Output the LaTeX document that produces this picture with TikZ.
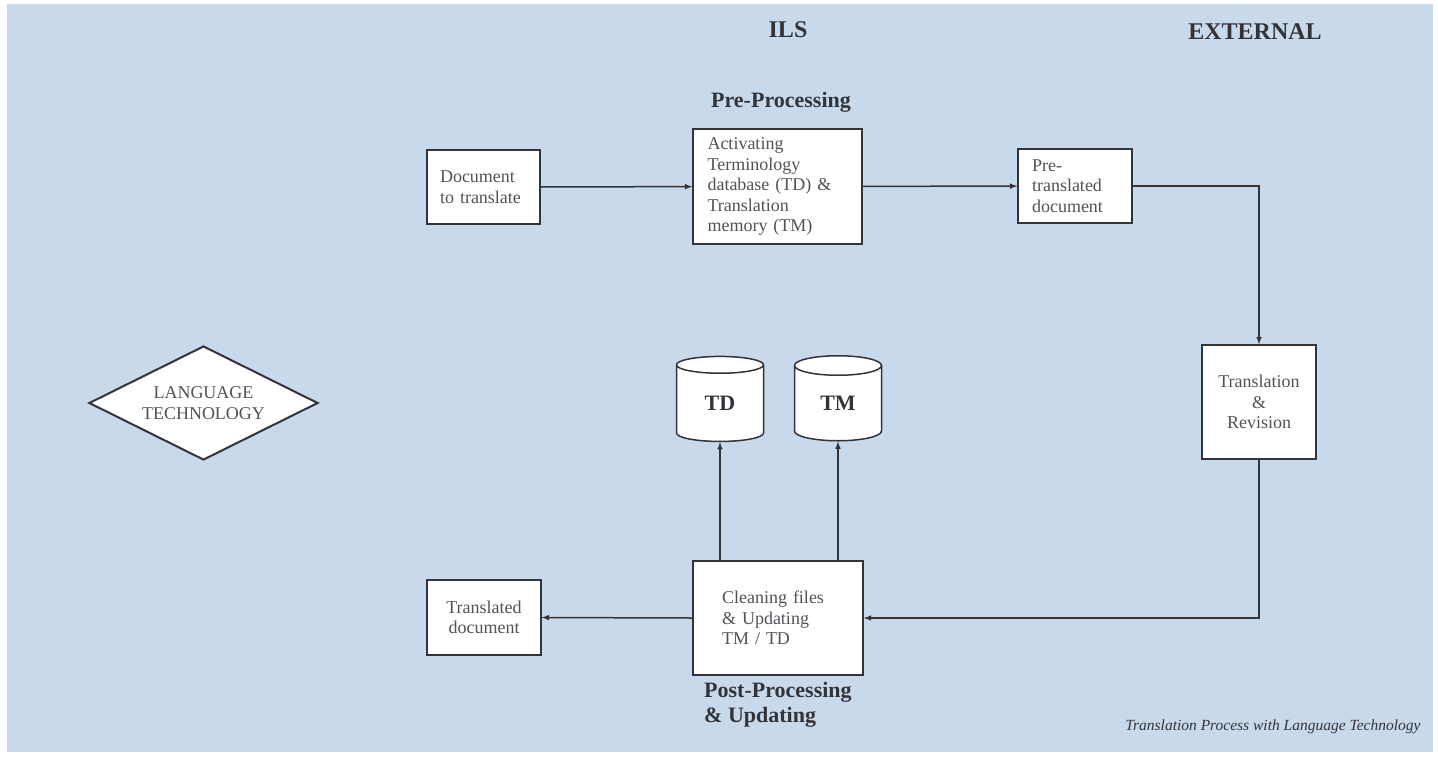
\documentclass[tikz,border=0pt]{standalone}
\usepackage{fontspec}
\setmainfont{Liberation Serif}
\usepackage{xcolor}
\usepackage{tikz}
\usetikzlibrary{shapes.geometric}
\usetikzlibrary{arrows}

\definecolor{pageblue}{RGB}{201,217,236}
\definecolor{inkgrey}{RGB}{50,52,58}
\definecolor{textgrey}{RGB}{82,82,88}

\tikzset{
    procbox/.style = {draw = inkgrey, line width = 1.5pt, fill = white, text = textgrey,
        font = \fontsize{18}{20.5}\selectfont, inner ysep = 0pt},
    dbcyl/.style = {shape = cylinder, shape border rotate = 90, aspect = 0.55, draw = inkgrey,
        line width = 1.5pt, fill = white, text = inkgrey, minimum width = 87pt, minimum height = 85pt,
        inner sep = 0pt, font = \fontsize{22}{25}\selectfont\bfseries},
    heading/.style = {text = inkgrey, font = \fontsize{22}{25}\selectfont\bfseries},
    flow/.style = {draw = inkgrey, line width = 1.5pt, -latex}
}

\begin{document}
\begin{tikzpicture}[x = 1pt, y = -1pt]
    \useasboundingbox (0, 0) rectangle (1438, 764);
    \fill [pageblue] (7, 4) rectangle (1433, 752);

    \node [heading, font = \fontsize{24}{27}\selectfont\bfseries] (ils) at (788, 30) {ILS};
    \node [heading, font = \fontsize{24}{27}\selectfont\bfseries] (ext) at (1255, 32) {EXTERNAL};
    \node [heading] (prep) at (781, 102) {Pre-Processing};
    \node [heading, anchor = north west, align = left, inner sep = 0pt] (postp) at (704, 682)
        {Post-Processing\\\& Updating};

    \node [procbox, text width = 87pt, inner xsep = 13pt, minimum height = 74pt, align = left]
        (doc) at (483.5, 187) {Document\\to translate};
    \node [procbox, text width = 140pt, inner xsep = 14.5pt, minimum height = 115pt, align = left]
        (act) at (777.5, 186.5) {Activating\\Terminology\\database (TD) \&\\Translation\\memory (TM)};
    \node [procbox, text width = 86pt, inner xsep = 14pt, minimum height = 74pt, align = left]
        (pre) at (1075, 186) {Pre-\\translated\\document};
    \node [procbox, text width = 86pt, inner xsep = 14pt, minimum height = 114pt, align = center]
        (trans) at (1259, 402) {Translation\\\&\\Revision};
    \node [procbox, text width = 112pt, inner xsep = 29pt, minimum height = 114pt, align = left]
        (clean) at (778, 618) {Cleaning files\\\& Updating\\TM / TD};
    \node [procbox, text width = 86pt, inner xsep = 14pt, minimum height = 75pt, align = center]
        (done) at (484, 617.5) {Translated\\document};

    \node [dbcyl] (td) at (720, 403.5) {TD};
    \node [dbcyl] (tm) at (838, 403.5) {TM};

    \node [shape = diamond, aspect = 2, draw = inkgrey, line width = 2pt, fill = white, text = textgrey,
        minimum width = 229pt, minimum height = 114pt, inner sep = 0pt, align = center,
        font = \fontsize{18}{21}\selectfont] (langtech) at (203.5, 403) {LANGUAGE\\TECHNOLOGY};

    \draw [flow] (doc) -- (act);
    \draw [flow] (act) -- (pre);
    \draw [flow] (pre.east) -| (trans.north);
    \draw [flow] (trans.south) |- (clean.east);
    \draw [flow] (clean.west) -- (done.east);
    \draw [flow] (clean.north -| td.south) -- (td.south);
    \draw [flow] (clean.north -| tm.south) -- (tm.south);

    \node [text = inkgrey, anchor = east, font = \fontsize{15.5}{18}\selectfont\itshape] (caption)
        at (1424, 727) {Translation Process with Language Technology};
\end{tikzpicture}
\end{document}
